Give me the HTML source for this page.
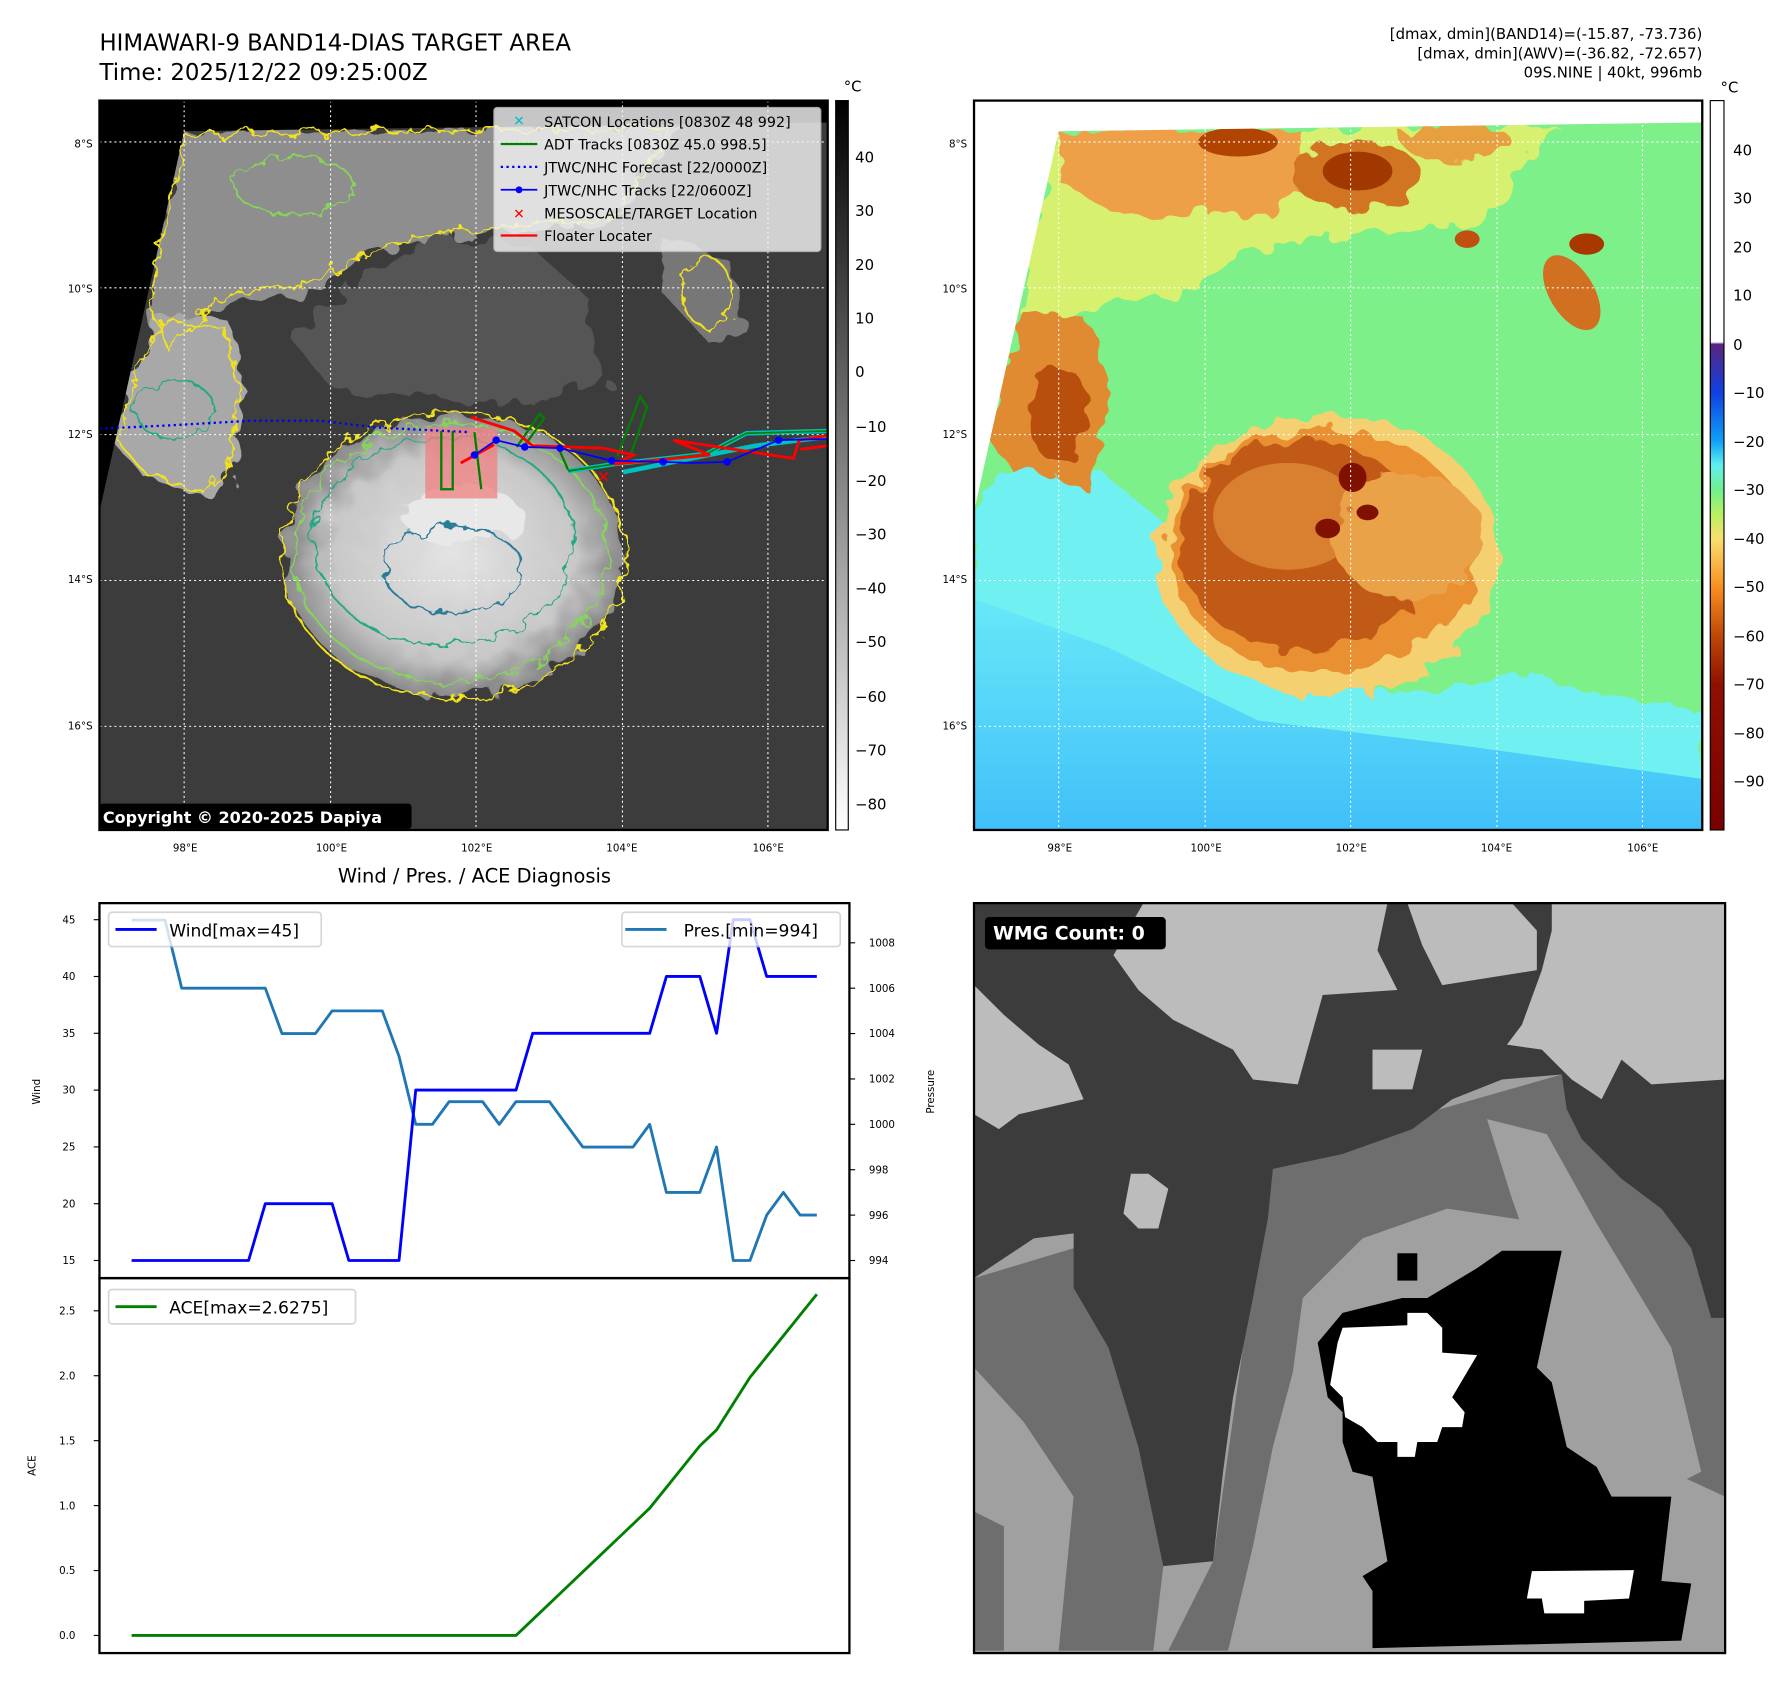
<!DOCTYPE html>
<html><head><meta charset="utf-8"><style>
html,body{margin:0;padding:0;background:#fff}
svg{display:block;font-family:"Liberation Sans","DejaVu Sans",sans-serif}
.t{font-family:"DejaVu Sans","Liberation Sans",sans-serif}
</style></head><body>
<svg id="root" width="1792" height="1690" viewBox="0 0 1567.5 1478.3" preserveAspectRatio="none" xmlns="http://www.w3.org/2000/svg">
<defs>
<linearGradient id="cb1" x1="0" y1="0" x2="0" y2="1"><stop offset="0" stop-color="#000"/><stop offset="1" stop-color="#fff"/></linearGradient>
<linearGradient id="cb2" x1="0" y1="0" x2="0" y2="1">
<stop offset="0" stop-color="#ffffff"/><stop offset="0.331" stop-color="#ffffff"/><stop offset="0.334" stop-color="#5a2580"/>
<stop offset="0.40" stop-color="#1040e0"/><stop offset="0.467" stop-color="#10a0f8"/><stop offset="0.50" stop-color="#60f0f0"/>
<stop offset="0.533" stop-color="#70f090"/><stop offset="0.567" stop-color="#b8f060"/><stop offset="0.60" stop-color="#f8e070"/>
<stop offset="0.667" stop-color="#f89020"/><stop offset="0.733" stop-color="#c04808"/><stop offset="0.80" stop-color="#901000"/><stop offset="1" stop-color="#780000"/></linearGradient>
<linearGradient id="blueb" x1="0" y1="0" x2="0" y2="1"><stop offset="0" stop-color="#68e8f8"/><stop offset="1" stop-color="#40c0f8"/></linearGradient>
<radialGradient id="storm1" cx="0.5" cy="0.5" r="0.5"><stop offset="0" stop-color="#e4e4e4"/><stop offset="0.7" stop-color="#c8c8c8"/><stop offset="1" stop-color="#8a8a8a"/></radialGradient>
<filter id="wig" x="-10%" y="-10%" width="120%" height="120%"><feTurbulence type="fractalNoise" baseFrequency="0.03" numOctaves="3" seed="4"/><feDisplacementMap in="SourceGraphic" scale="40"/></filter>
<filter id="wig2" x="-10%" y="-10%" width="120%" height="120%"><feTurbulence type="fractalNoise" baseFrequency="0.02" numOctaves="2" seed="7"/><feDisplacementMap in="SourceGraphic" scale="60"/></filter>
</defs>

<!-- Titles -->
<text class="t" x="87" y="44" font-size="20">HIMAWARI-9 BAND14-DIAS TARGET AREA</text>
<text class="t" x="87" y="70" font-size="20">Time: 2025/12/22 09:25:00Z</text>
<g class="t" font-size="13" text-anchor="end">
<text x="1489" y="34">[dmax, dmin](BAND14)=(-15.87, -73.736)</text>
<text x="1489" y="51">[dmax, dmin](AWV)=(-36.82, -72.657)</text>
<text x="1489" y="68">09S.NINE | 40kt, 996mb</text>
</g>

<!-- MAP 1 -->
<svg x="87" y="88" width="637" height="638" viewBox="30 25 1462 1500" preserveAspectRatio="none">
<rect x="0" y="0" width="1600" height="1600" fill="#3c3c3c"/>
<polygon points="200,90 1200,75 1050,280 760,300 600,330 420,420 280,430 160,560 120,450" fill="#8e8e8e" filter="url(#wig2)"/>
<polygon points="150,470 290,480 320,620 300,800 250,840 120,800 60,730 90,600" fill="#a8a8a8" filter="url(#wig2)"/>
<polygon points="700,300 900,330 1000,420 1050,600 900,650 700,640 500,620 420,520 520,420" fill="#545454" filter="url(#wig2)"/>
<polygon points="1150,300 1300,360 1330,500 1250,520 1160,420" fill="#777" filter="url(#wig2)"/>
<ellipse cx="740" cy="960" rx="340" ry="290" fill="url(#storm1)" filter="url(#wig2)"/>
<ellipse cx="760" cy="880" rx="120" ry="60" fill="#e8e8e8" filter="url(#wig2)"/>
<polygon points="30,25 1492,25 1492,70 200,88 30,870" fill="#000"/>
<g fill="none" stroke-width="4" filter="url(#wig)">
<ellipse cx="740" cy="960" rx="345" ry="295" stroke="#f2e21a"/>
<ellipse cx="735" cy="955" rx="315" ry="265" stroke="#86d45a"/>
<ellipse cx="720" cy="930" rx="260" ry="215" stroke="#26a884"/>
<ellipse cx="740" cy="990" rx="140" ry="90" stroke="#2c7a98"/>
<polygon points="200,95 1180,80 1060,270 760,290 600,320 420,410 280,420 170,540 130,450" stroke="#f2e21a"/>
<polygon points="150,480 280,490 310,620 290,790 240,830 120,790 70,730 100,600" stroke="#f2e21a"/>
<ellipse cx="180" cy="660" rx="80" ry="60" stroke="#26a884"/>
<ellipse cx="1250" cy="420" rx="50" ry="70" stroke="#f2e21a"/>
<ellipse cx="420" cy="200" rx="120" ry="60" stroke="#86d45a"/>
</g>
<g stroke="#fff" stroke-width="2.2" stroke-dasharray="4,6" fill="none">
<line x1="200" y1="25" x2="200" y2="1525"/><line x1="494" y1="25" x2="494" y2="1525"/><line x1="786" y1="25" x2="786" y2="1525"/><line x1="1080" y1="25" x2="1080" y2="1525"/><line x1="1372" y1="25" x2="1372" y2="1525"/>
<line x1="30" y1="110" x2="1492" y2="110"/><line x1="30" y1="410" x2="1492" y2="410"/><line x1="30" y1="712" x2="1492" y2="712"/><line x1="30" y1="1012" x2="1492" y2="1012"/><line x1="30" y1="1312" x2="1492" y2="1312"/>
</g>
</svg>
<!-- tracks on map1 -->
<g fill="none">
<rect x="372" y="374" width="63" height="62" fill="#f08080" opacity="0.75"/>
<polyline points="87,375 150,372 220,368 280,368 330,374 410,378" stroke="#0000ff" stroke-width="2" stroke-dasharray="2,3"/>
<polyline points="497,412 537,406 618,397 653,379 724,377" stroke="#00c0c0" stroke-width="4"/>
<polyline points="545,413 600,402 660,390 724,382" stroke="#00c0c0" stroke-width="4"/>
<polyline points="386,377 386,428 396,428 396,377" stroke="#008000" stroke-width="2"/>
<polyline points="415,378 421,428" stroke="#008000" stroke-width="2"/>
<polyline points="452,391 472,362 476,366 458,391" stroke="#008000" stroke-width="2"/>
<polyline points="497,411 489,393" stroke="#008000" stroke-width="2"/>
<polyline points="540,399 560,347 566,356 551,400" stroke="#008000" stroke-width="2"/>
<polyline points="497,412 537,406 618,397 653,379 724,377" stroke="#008000" stroke-width="1.5"/>
<polyline points="412,365 450,377 466,390 528,392 554,398 537,406 621,398 589,385 694,401 699,385 724,381" stroke="#ff0000" stroke-width="2.5"/>
<polyline points="403,405 432,389" stroke="#ff0000" stroke-width="2.5"/>
<polyline points="700,393 724,390" stroke="#ff0000" stroke-width="2.5"/>
<polyline points="415,398 434,385 459,391 490,392 535,403 580,404 605,405 636,404 681,385 724,384" stroke="#0000ff" stroke-width="1.5"/>
<g fill="#0000ff"><circle cx="415" cy="398" r="3.3"/><circle cx="434" cy="385" r="3.3"/><circle cx="459" cy="391" r="3.3"/><circle cx="490" cy="392" r="3.3"/><circle cx="535" cy="403" r="3.3"/><circle cx="580" cy="404" r="3.3"/><circle cx="636" cy="404" r="3.3"/><circle cx="681" cy="385" r="3.3"/></g>
<text x="528" y="422" fill="#ff0000" font-size="14" font-weight="bold" text-anchor="middle">✕</text>
</g>
<!-- legend map1 -->
<g>
<rect x="432" y="94" width="286" height="126" rx="3" fill="#f2f2f2" opacity="0.82" stroke="#ccc"/>
<g class="t" font-size="12.5" fill="#000">
<text x="454" y="110" fill="#00bfbf" text-anchor="middle" font-size="12" font-weight="bold">✕</text><text x="476" y="111">SATCON Locations [0830Z 48 992]</text>
<line x1="438" y1="126" x2="470" y2="126" stroke="#008000" stroke-width="2"/><text x="476" y="131">ADT Tracks [0830Z 45.0 998.5]</text>
<line x1="438" y1="146" x2="470" y2="146" stroke="#0000ff" stroke-width="2" stroke-dasharray="2,3"/><text x="476" y="151">JTWC/NHC Forecast [22/0000Z]</text>
<line x1="438" y1="166" x2="470" y2="166" stroke="#0000ff" stroke-width="1.5"/><circle cx="454" cy="166" r="3" fill="#0000ff"/><text x="476" y="171">JTWC/NHC Tracks [22/0600Z]</text>
<text x="454" y="191" fill="#ff0000" text-anchor="middle" font-size="12" font-weight="bold">✕</text><text x="476" y="191">MESOSCALE/TARGET Location</text>
<line x1="438" y1="206" x2="470" y2="206" stroke="#ff0000" stroke-width="2"/><text x="476" y="211">Floater Locater</text>
</g></g>
<rect x="87" y="703" width="273" height="22" rx="3" fill="#000"/>
<text class="t" x="90" y="720" fill="#fff" font-size="14" font-weight="bold">Copyright © 2020-2025 Dapiya</text>
<rect x="87" y="88" width="637" height="638" fill="none" stroke="#000" stroke-width="2"/>

<!-- colorbar 1 -->
<rect x="731" y="88" width="11" height="638" fill="url(#cb1)" stroke="#000" stroke-width="1"/>
<g class="t" font-size="13">
<text x="738" y="80">°C</text>
<text x="748" y="142">40</text><text x="748" y="189">30</text><text x="748" y="236">20</text><text x="748" y="283">10</text><text x="748" y="330">0</text><text x="748" y="378">−10</text><text x="748" y="425">−20</text><text x="748" y="472">−30</text><text x="748" y="519">−40</text><text x="748" y="566">−50</text><text x="748" y="614">−60</text><text x="748" y="661">−70</text><text x="748" y="708">−80</text>
</g>
<g class="t" font-size="9" text-anchor="end">
<text x="81" y="129">8°S</text><text x="81" y="256">10°S</text><text x="81" y="383">12°S</text><text x="81" y="510">14°S</text><text x="81" y="638">16°S</text></g>
<g class="t" font-size="9" text-anchor="middle">
<text x="162" y="745">98°E</text><text x="290" y="745">100°E</text><text x="417" y="745">102°E</text><text x="544" y="745">104°E</text><text x="672" y="745">106°E</text></g>

<!-- MAP 2 -->
<svg x="852" y="88" width="637" height="638" viewBox="30 25 1462 1500" preserveAspectRatio="none">
<rect x="0" y="0" width="1600" height="1600" fill="#7ef08a"/>
<polygon points="200,90 1200,75 1050,280 760,300 600,330 420,420 280,430 160,560 120,450" fill="#d8f070" filter="url(#wig2)"/>
<polygon points="30,870 100,780 300,800 420,900 500,1150 700,1240 950,1240 1150,1200 1300,1250 1492,1280 1492,1525 30,1525" fill="#70f0f0" filter="url(#wig2)"/>
<polygon points="30,1050 300,1150 600,1300 1000,1350 1492,1420 1492,1525 30,1525" fill="url(#blueb)"/>
<polygon points="130,460 260,480 300,600 290,750 260,830 200,800 100,780 60,720 80,600" fill="#e08a30" filter="url(#wig2)"/>
<ellipse cx="200" cy="670" rx="60" ry="100" fill="#b85010" filter="url(#wig2)"/>
<polygon points="200,90 680,80 700,200 620,260 500,250 420,280 300,250 210,200" fill="#eea048" filter="url(#wig2)"/>
<ellipse cx="560" cy="110" rx="80" ry="30" fill="#b04400"/>
<ellipse cx="800" cy="180" rx="130" ry="70" fill="#d27424" filter="url(#wig2)"/>
<ellipse cx="800" cy="170" rx="70" ry="40" fill="#a03800"/>
<ellipse cx="1000" cy="110" rx="110" ry="40" fill="#e6a040" filter="url(#wig2)"/>
<ellipse cx="1260" cy="320" rx="35" ry="22" fill="#a83800"/>
<ellipse cx="1230" cy="420" rx="45" ry="85" fill="#d07020" transform="rotate(-30 1230 420)"/>
<ellipse cx="1020" cy="310" rx="25" ry="18" fill="#c05010"/>
<ellipse cx="740" cy="960" rx="345" ry="290" fill="#f4d070" filter="url(#wig2)"/>
<ellipse cx="730" cy="950" rx="310" ry="250" fill="#e89030" filter="url(#wig2)"/>
<ellipse cx="690" cy="940" rx="250" ry="215" fill="#c05a12" filter="url(#wig2)"/>
<ellipse cx="660" cy="880" rx="150" ry="110" fill="#d88030"/>
<ellipse cx="900" cy="920" rx="150" ry="130" fill="#eaa24a" filter="url(#wig2)"/>
<ellipse cx="790" cy="800" rx="28" ry="30" fill="#801000"/><ellipse cx="820" cy="872" rx="22" ry="16" fill="#801000"/><ellipse cx="740" cy="905" rx="25" ry="20" fill="#801000"/>
<polygon points="30,25 1492,25 1492,70 200,88 30,870" fill="#fff"/>
<g stroke="#fff" stroke-width="2.2" stroke-dasharray="4,6" fill="none">
<line x1="200" y1="25" x2="200" y2="1525"/><line x1="494" y1="25" x2="494" y2="1525"/><line x1="786" y1="25" x2="786" y2="1525"/><line x1="1080" y1="25" x2="1080" y2="1525"/><line x1="1372" y1="25" x2="1372" y2="1525"/>
<line x1="30" y1="110" x2="1492" y2="110"/><line x1="30" y1="410" x2="1492" y2="410"/><line x1="30" y1="712" x2="1492" y2="712"/><line x1="30" y1="1012" x2="1492" y2="1012"/><line x1="30" y1="1312" x2="1492" y2="1312"/>
</g>
</svg>
<rect x="852" y="88" width="637" height="638" fill="none" stroke="#000" stroke-width="2"/>
<rect x="1496" y="88" width="12" height="638" fill="url(#cb2)" stroke="#000" stroke-width="1"/>
<g class="t" font-size="13">
<text x="1505" y="81">°C</text>
<text x="1516" y="136">40</text><text x="1516" y="178">30</text><text x="1516" y="221">20</text><text x="1516" y="263">10</text><text x="1516" y="306">0</text><text x="1516" y="348">−10</text><text x="1516" y="391">−20</text><text x="1516" y="433">−30</text><text x="1516" y="476">−40</text><text x="1516" y="518">−50</text><text x="1516" y="561">−60</text><text x="1516" y="603">−70</text><text x="1516" y="646">−80</text><text x="1516" y="688">−90</text>
</g>
<g class="t" font-size="9" text-anchor="end">
<text x="846" y="129">8°S</text><text x="846" y="256">10°S</text><text x="846" y="383">12°S</text><text x="846" y="510">14°S</text><text x="846" y="638">16°S</text></g>
<g class="t" font-size="9" text-anchor="middle">
<text x="927" y="745">98°E</text><text x="1055" y="745">100°E</text><text x="1182" y="745">102°E</text><text x="1309" y="745">104°E</text><text x="1437" y="745">106°E</text></g>

<!-- WMG panel -->
<svg x="852" y="790" width="657" height="656" viewBox="0 5 1508 1510" preserveAspectRatio="none">
<rect x="0" y="0" width="1600" height="1600" fill="#a0a0a0"/>
<polygon points="590,540 900,430 1180,350 1508,450 1508,1200 1400,1150 1300,850 1150,650 950,620 780,680 660,800 640,950 600,1100 560,1300 510,1510 390,1510 480,1330" fill="#6e6e6e"/>
<polygon points="0,760 200,700 330,1000 380,1340 360,1510 170,1510 200,1200 100,1050 0,940" fill="#6e6e6e"/>
<polygon points="0,1230 60,1260 60,1510 0,1510" fill="#6e6e6e"/>
<polygon points="0,5 1508,5 1508,840 1480,840 1440,700 1380,620 1300,560 1220,480 1190,420 1180,350 1060,360 960,400 880,460 740,510 600,540 590,640 560,800 520,1000 500,1150 480,1330 380,1340 330,1100 270,900 200,780 200,670 120,680 0,760" fill="#3c3c3c"/>
<polygon points="1030,440 1150,470 1250,650 1400,900 1460,1150 1360,1200 1280,1150 1180,1000 1150,800 1080,600" fill="#a0a0a0"/>
<polygon points="280,110 340,5 830,5 810,100 850,180 700,190 650,370 560,360 520,300 400,240 330,180" fill="#bcbcbc"/>
<polygon points="870,5 1080,5 1130,60 1130,140 940,170 900,90" fill="#bcbcbc"/>
<polygon points="1160,5 1508,5 1508,360 1360,370 1300,320 1260,400 1200,360 1140,300 1070,290 1100,250 1140,140 1160,60" fill="#bcbcbc"/>
<polygon points="0,170 60,230 130,290 190,330 220,400 90,430 50,460 0,430" fill="#bcbcbc"/>
<polygon points="800,300 900,300 880,380 800,380" fill="#bcbcbc"/>
<polygon points="315,550 350,550 390,580 370,660 330,660 300,630" fill="#bcbcbc"/>
<polygon points="740,830 860,800 910,800 1010,740 1060,705 1180,705 1130,940 1160,970 1190,1100 1250,1140 1280,1200 1400,1200 1380,1370 1440,1375 1420,1490 800,1505 800,1390 780,1360 830,1330 800,1160 760,1150 740,1090 740,1030 710,1000 690,890" fill="#000"/>
<rect x="850" y="710" width="40" height="55" fill="#000"/>
<polygon points="740,860 870,855 870,830 910,830 940,860 940,910 1010,915 960,1000 985,1030 980,1060 940,1060 930,1090 890,1090 885,1120 850,1120 850,1090 810,1090 780,1060 745,1040 740,1000 715,975 730,890" fill="#fff"/>
<polygon points="1120,1350 1325,1348 1315,1405 1225,1410 1225,1435 1145,1435 1140,1405 1110,1405" fill="#fff"/>
<rect x="22" y="33" width="363" height="65" rx="8" fill="#000"/>
<text x="38" y="78" fill="#fff" font-size="38" font-weight="bold" font-family="DejaVu Sans, sans-serif">WMG Count: 0</text>
</svg>
<rect x="852" y="790" width="657" height="656" fill="none" stroke="#000" stroke-width="2"/>

<!-- Diagnosis chart -->
<text class="t" x="415" y="772" font-size="17" text-anchor="middle">Wind / Pres. / ACE Diagnosis</text>
<g id="chart"></g>
<rect x="87" y="790" width="656" height="328" fill="none" stroke="#000" stroke-width="2"/>
<rect x="87" y="1118" width="656" height="328" fill="none" stroke="#000" stroke-width="2"/>
<text class="t" font-size="9" transform="translate(35,955) rotate(-90)" text-anchor="middle">Wind</text>
<text class="t" font-size="9" transform="translate(817,955) rotate(-90)" text-anchor="middle">Pressure</text>
<text class="t" font-size="9" transform="translate(31,1282) rotate(-90)" text-anchor="middle">ACE</text>
<g>
<rect x="95" y="798" width="186" height="30" rx="3" fill="#fff" opacity="0.8" stroke="#ccc" stroke-width="1.5"/>
<line x1="101" y1="813" x2="137" y2="813" stroke="#0000ff" stroke-width="2.5"/>
<text class="t" x="148" y="819" font-size="15">Wind[max=45]</text></g>
<g>
<rect x="544" y="798" width="191" height="30" rx="3" fill="#fff" opacity="0.8" stroke="#ccc" stroke-width="1.5"/>
<line x1="547" y1="813" x2="583" y2="813" stroke="#1f77b4" stroke-width="2.5"/>
<text class="t" x="598" y="819" font-size="15">Pres.[min=994]</text></g>
<g>
<rect x="95" y="1128" width="216" height="30" rx="3" fill="#fff" opacity="0.8" stroke="#ccc" stroke-width="1.5"/>
<line x1="101" y1="1143" x2="137" y2="1143" stroke="#008000" stroke-width="2.5"/>
<text class="t" x="148" y="1149" font-size="15">ACE[max=2.6275]</text></g>
</svg>
<script>
const windValues=[15,15,15,15,15,15,15,15,20,20,20,20,20,15,15,15,15,30,30,30,30,30,30,30,35,35,35,35,35,35,35,35,40,40,40,35,45,45,40,40,40,40];
const pressureValues=[1009,1009,1009,1006,1006,1006,1006,1006,1006,1004,1004,1004,1005,1005,1005,1005,1003,1000,1000,1001,1001,1001,1000,1001,1001,1001,1000,999,999,999,999,1000,997,997,997,999,994,994,996,997,996,996];
const aceValues=[0,0,0,0,0,0,0,0,0,0,0,0,0,0,0,0,0,0,0,0,0,0,0,0,0.1225,0.245,0.3675,0.49,0.6125,0.735,0.8575,0.98,1.14,1.3,1.46,1.5825,1.785,1.9875,2.1475,2.3075,2.4675,2.6275];
const windTicks=[15,20,25,30,35,40,45];
const pressureTicks=[994,996,998,1000,1002,1004,1006,1008];
const aceTicks=[0,0.5,1,1.5,2,2.5];
const aceTickLabels=["0.0","0.5","1.0","1.5","2.0","2.5"];

const NS="http://www.w3.org/2000/svg";
const chart=document.getElementById('chart');
function xS(i){return 115.1+i*(714.5-115.1)/(windValues.length-1);}
function yW(v){return 1102.6-(v-15)*9.937;}
function yP(p){return 1102.6-(p-994)*19.85;}
function yA(a){return 1430.6-a*113.6;}
function mk(tag,attrs){const e=document.createElementNS(NS,tag);for(const k in attrs)e.setAttribute(k,attrs[k]);chart.appendChild(e);return e;}
function series(vals,yf,color,name){
  const pts=vals.map((v,i)=>xS(i).toFixed(2)+','+yf(v).toFixed(2)).join(' ');
  const p=mk('polyline',{points:pts,fill:'none',stroke:color,'stroke-width':2.5,'stroke-linejoin':'round'});
  
  
}
function tick(x1,x2,y,label,tx,anchor,name){
  const l=mk('line',{x1:x1,x2:x2,y1:y,y2:y,stroke:'#000','stroke-width':1});
  
  
  const t=mk('text',{x:tx,y:y+3.2,'font-size':9,'text-anchor':anchor,'font-family':'DejaVu Sans, Liberation Sans, sans-serif'});
  t.textContent=label;
  
  
}
windTicks.forEach(v=>tick(82,87,yW(v),String(v),66,'end','wind-tick'));
pressureTicks.forEach(v=>tick(743,748,yP(v),String(v),760,'start','pressure-tick'));
aceTicks.forEach((v,i)=>tick(82,87,yA(v),aceTickLabels[i],66,'end','ace-tick'));
series(pressureValues,yP,'#1f77b4','pressure-line');
series(windValues,yW,'#0000ff','wind-line');
series(aceValues,yA,'#008000','ace-line');
</script>
</body></html>
